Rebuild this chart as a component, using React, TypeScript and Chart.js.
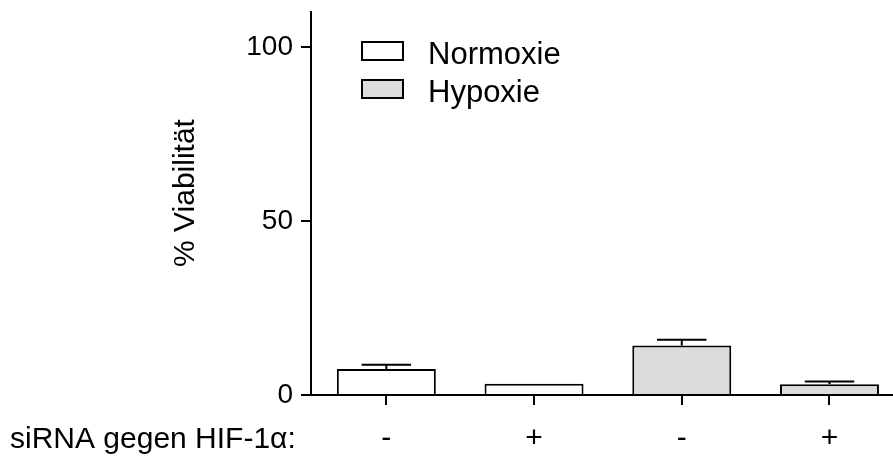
import React, { useEffect, useRef } from 'react';
import { Chart, registerables } from 'chart.js';

Chart.register(...registerables);

// ---- data ----
const categories = ['-', '+', '-', '+'];
const seriesLabels = ['Normoxie', 'Hypoxie'];
const normoxieValues = [7.5, 3.2];
const normoxieErrors = [1.2, 0];
const hypoxieValues = [14.2, 3.1];
const hypoxieErrors = [1.7, 0.8];
const normoxiePositions = [0, 1];
const hypoxiePositions = [2, 3];
const yTickValues = [0, 50, 100];
const yTitle = '% Viabilität';
const rowLabel = 'siRNA gegen HIF-1α:';

const FONT = "'Liberation Sans', Arial, sans-serif";

const overlayPlugin = {
  id: 'overlay',
  afterDatasetsDraw(chart: any) {
    const ctx = chart.ctx;
    const yScale = chart.scales.y;
    ctx.save();
    ctx.strokeStyle = '#000';
    ctx.lineWidth = 2;
    chart.data.datasets.forEach((ds: any, di: number) => {
      const meta = chart.getDatasetMeta(di);
      ds.errors.forEach((e: number, i: number) => {
        if (!e) return;
        const el: any = meta.data[i];
        const top = yScale.getPixelForValue(ds.data[i].y + e);
        const hw = el.width / 4;
        ctx.beginPath();
        ctx.moveTo(el.x, el.y);
        ctx.lineTo(el.x, top);
        ctx.moveTo(el.x - hw, top);
        ctx.lineTo(el.x + hw, top);
        ctx.stroke();
      });
    });
    ctx.restore();
  },
  afterDraw(chart: any) {
    const ctx = chart.ctx;
    ctx.save();
    // legend
    chart.data.datasets.forEach((ds: any, di: number) => {
      const bx = 362;
      const by = 42 + di * 38;
      ctx.fillStyle = ds.backgroundColor;
      ctx.fillRect(bx, by, 41, 18);
      ctx.strokeStyle = '#000';
      ctx.lineWidth = 2;
      ctx.strokeRect(bx, by, 41, 18);
      ctx.fillStyle = '#000';
      ctx.font = `31px ${FONT}`;
      ctx.textAlign = 'left';
      ctx.textBaseline = 'middle';
      ctx.fillText(ds.label, 428, by + 13);
    });
    // y title
    ctx.save();
    ctx.translate(186, 193);
    ctx.rotate(-Math.PI / 2);
    ctx.font = `30px ${FONT}`;
    ctx.fillStyle = '#000';
    ctx.textAlign = 'center';
    ctx.textBaseline = 'middle';
    ctx.fillText(yTitle, 0, 0);
    ctx.restore();
    // row label
    ctx.font = `30px ${FONT}`;
    ctx.fillStyle = '#000';
    ctx.textAlign = 'left';
    ctx.textBaseline = 'middle';
    ctx.fillText(rowLabel, 10, 440);
    ctx.restore();
  },
};

export default function App() {
  const ref = useRef<HTMLCanvasElement>(null);
  useEffect(() => {
    if (!ref.current) return;
    const chart = new Chart(ref.current, {
      type: 'bar',
      data: {
        datasets: [
          {
            label: seriesLabels[0],
            data: normoxieValues.map((v, i) => ({ x: normoxiePositions[i], y: v })),
            errors: normoxieErrors,
            backgroundColor: '#ffffff',
            borderColor: '#000000',
            borderWidth: 2,
          } as any,
          {
            label: seriesLabels[1],
            data: hypoxieValues.map((v, i) => ({ x: hypoxiePositions[i], y: v })),
            errors: hypoxieErrors,
            backgroundColor: '#dcdcdc',
            borderColor: '#000000',
            borderWidth: 2,
          } as any,
        ],
      },
      options: {
        animation: false,
        responsive: false,
        devicePixelRatio: 1,
        layout: { padding: { top: 12, right: 0, left: 0, bottom: 0 } },
        datasets: { bar: { categoryPercentage: 1, barPercentage: 0.67 } },
        plugins: { legend: { display: false }, tooltip: { enabled: false } },
        scales: {
          x: {
            type: 'linear',
            stacked: true,
            offset: false,
            min: -0.51,
            max: 3.43,
            afterBuildTicks: (axis: any) => {
              axis.ticks = categories.map((_, i) => ({ value: i }));
            },
            afterFit: (scale: any) => {
              scale.height = 62;
              scale.paddingLeft = 0;
              scale.paddingRight = 0;
            },
            ticks: {
              callback: (v: any) => categories[Math.round(Number(v))] ?? '',
              font: { family: FONT, size: 30 },
              color: '#000',
              padding: 16,
              maxRotation: 0,
              autoSkip: false,
            },
            grid: { offset: false, drawOnChartArea: false, drawTicks: true, tickLength: 10, color: '#000', lineWidth: 2 },
            border: { display: true, color: '#000', width: 2 },
          },
          y: {
            min: 0,
            max: 110,
            afterBuildTicks: (axis: any) => {
              axis.ticks = yTickValues.map((v) => ({ value: v }));
            },
            afterFit: (scale: any) => {
              scale.width = 311;
              scale.paddingTop = 0;
              scale.paddingBottom = 0;
            },
            ticks: {
              font: { family: FONT, size: 28 },
              color: '#000',
              padding: 8,
            },
            grid: { drawOnChartArea: false, drawTicks: true, tickLength: 10, color: '#000', lineWidth: 2 },
            border: { display: true, color: '#000', width: 2 },
          },
        },
      } as any,
      plugins: [overlayPlugin],
    });
    return () => chart.destroy();
  }, []);
  return (
    <div style={{ position: 'fixed', left: 0, top: 0, width: 893, height: 457, background: '#fff' }}>
      <canvas ref={ref} width={893} height={457} style={{ display: 'block' }} />
    </div>
  );
}
